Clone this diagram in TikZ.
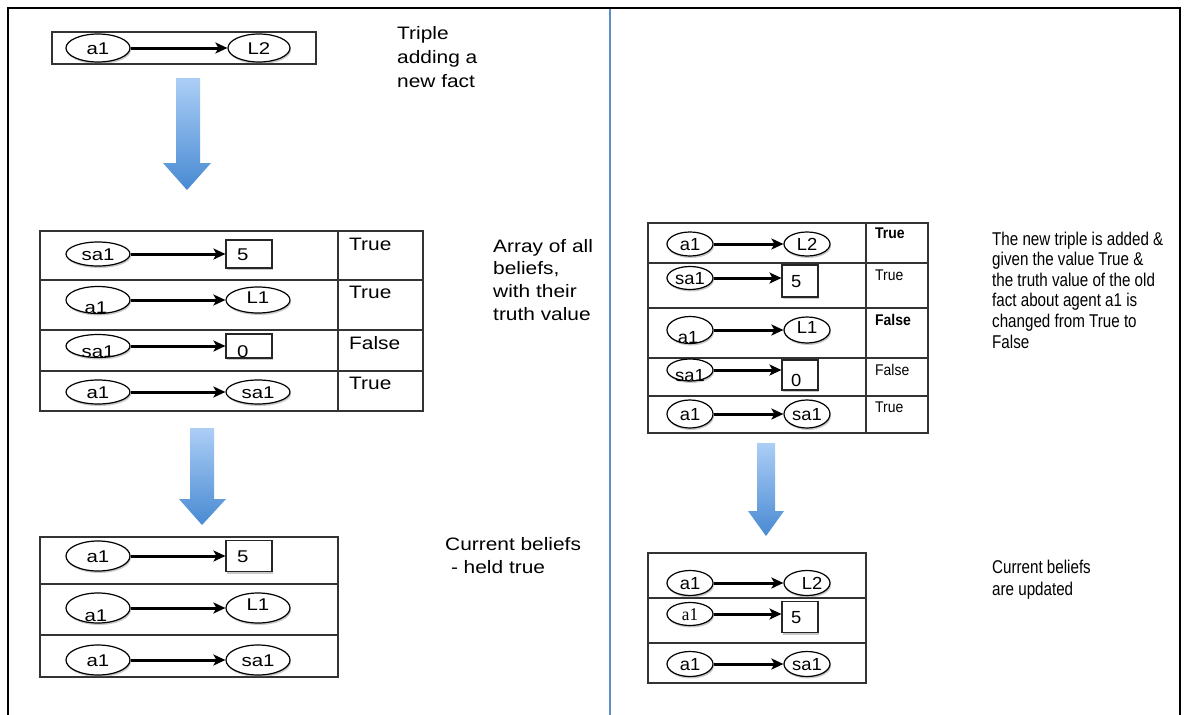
\documentclass[tikz,border=0pt]{standalone}
\usepackage{fontspec}
\setmainfont{Liberation Sans}
\newfontfamily\wideF[FakeStretch=1.16]{Liberation Sans}
\newfontfamily\lblF[FakeStretch=1.2]{Liberation Sans}
\newfontfamily\narrowF[FakeStretch=0.82]{Liberation Sans}
\newfontfamily\rtF[FakeStretch=0.9]{Liberation Sans}
\newfontfamily\rlblF[FakeStretch=1.05]{Liberation Sans}
\newfontfamily\rserF[FakeStretch=0.95]{Liberation Serif}
\usetikzlibrary{shapes.geometric,arrows.meta,shadows}
\newcommand{\lowtxt}[1]{\raisebox{-5pt}{#1}}
\newcommand{\lowertxt}[1]{\raisebox{-7pt}{\hspace*{-4pt}#1}}
\definecolor{blueTop}{RGB}{172,206,246}
\definecolor{blueBot}{RGB}{72,138,210}
\definecolor{divblue}{RGB}{92,142,200}
\tikzset{
  shd/.style={drop shadow={shadow xshift=1pt,shadow yshift=-2pt,opacity=0.35,fill=black!60}},
  ell/.style={ellipse, draw=black, line width=1.2pt, fill=white, inner sep=0pt,
    minimum width=64pt, minimum height=25pt, text height=12.2pt, text depth=0pt,
    font=\lblF\fontsize{17}{17}\selectfont, shd},
  rell/.style={ell, minimum width=46pt, minimum height=24pt, text height=12.5pt,
    font=\rlblF\fontsize{17.5}{17.5}\selectfont},
  valbox/.style={rectangle, draw=black!85, line width=1.1pt, fill=white, inner sep=0pt,
    minimum width=46pt, minimum height=28pt, text width=24pt, inner xsep=11pt, align=left,
    text height=12.2pt, text depth=0pt, font=\lblF\fontsize{17}{17}\selectfont, shd},
  rval/.style={valbox, minimum width=36pt, minimum height=32pt, text width=18pt, inner xsep=9pt,
    text height=12.5pt, font=\rlblF\fontsize{17.5}{17.5}\selectfont},
  arr/.style={-{Stealth[length=12pt,width=11pt,inset=3pt]}, line width=3pt},
  tbl/.style={draw=black!80, line width=1.2pt},
  truth/.style={anchor=base west, inner sep=0pt, font=\wideF\fontsize{18}{18}\selectfont},
  rtruth/.style={anchor=base west, inner sep=0pt, font=\rtF\fontsize{15.5}{15.5}\selectfont},
  note/.style={anchor=north west, inner sep=0pt, align=left},
}
\begin{document}
\begin{tikzpicture}[x=1pt,y=-1pt]
\useasboundingbox (0,0) rectangle (1189,715);
\fill[white] (0,0) rectangle (1189,715);
% frame
\draw[line width=2pt] (8,715) -- (8,8);
\draw[line width=2.5pt] (7,8) -- (1181,8);
\draw[line width=1.2pt] (1180,8) -- (1180,715);
\draw[line width=2.6pt, divblue] (610,9) -- (610,715);

% ---------- top triple ----------
\draw[tbl] (52,32) rectangle (316,64);
\node[ell, minimum height=28pt] (t1) at (98,48) {a1};
\node[ell, minimum width=62pt, minimum height=28pt] (t2) at (259,48) {L2};
\draw[arr] (t1) -- (t2);
\node[note, font=\wideF\fontsize{18}{24}\selectfont] (tn) at (397,26) {Triple\\adding a\\new fact};

% blue arrow 1
\shade[top color=blueTop, bottom color=blueBot] (176,78) -- (200,78) -- (200,163) -- (211,163) -- (187,190) -- (163,163) -- (176,163) -- cycle;

% ---------- array of all beliefs ----------
\draw[tbl] (40,231) rectangle (423,411);
\draw[tbl] (338,231) -- (338,411);
\draw[tbl] (40,280) -- (423,280);
\draw[tbl] (40,330) -- (423,330);
\draw[tbl] (40,371) -- (423,371);
\node[ell, minimum height=24pt] (m1a) at (98,254) {sa1};
\node[valbox] (m1b) at (249,254) {5};
\draw[arr] (m1a.east) -- (m1a.east -| m1b.west);
\node[ell, minimum height=27pt] (m2a) at (98,300) {\lowertxt{a1}};
\node[ell, minimum height=26pt] (m2b) at (258,300) {\raisebox{3pt}{L1}};
\draw[arr] (m2a) -- (m2b);
\node[ell, minimum height=23pt] (m3a) at (98,346) {\lowtxt{sa1}};
\node[valbox, minimum height=24pt] (m3b) at (249,346) {\lowtxt{0}};
\draw[arr] (m3a.east) -- (m3a.east -| m3b.west);
\node[ell, minimum height=24pt] (m4a) at (98,392) {a1};
\node[ell, minimum height=24pt] (m4b) at (258,392) {sa1};
\draw[arr] (m4a) -- (m4b);
\node[truth] (mt1) at (349,250) {True};
\node[truth] (mt2) at (349,298) {True};
\node[truth] (mt3) at (349,349) {False};
\node[truth] (mt4) at (349,389) {True};
\node[note, font=\wideF\fontsize{18}{22.7}\selectfont] (mn) at (493,239) {Array of all\\beliefs,\\with their\\truth value};

% blue arrow 2
\shade[top color=blueTop, bottom color=blueBot] (190,428) -- (214,428) -- (214,499) -- (226,499) -- (202,525) -- (179,499) -- (190,499) -- cycle;

% ---------- current beliefs (left) ----------
\draw[tbl] (40,537) rectangle (338,677);
\draw[tbl] (40,584) -- (338,584);
\draw[tbl] (40,635) -- (338,635);
\node[ell, minimum height=30pt] (b1a) at (98,556) {a1};
\node[valbox, minimum height=31pt] (b1b) at (249,556) {5};
\draw[arr] (b1a.east) -- (b1a.east -| b1b.west);
\node[ell, minimum height=30pt] (b2a) at (98,608) {\lowertxt{a1}};
\node[ell, minimum height=30pt] (b2b) at (258,608) {\raisebox{4pt}{L1}};
\draw[arr] (b2a) -- (b2b);
\node[ell, minimum height=30pt] (b3a) at (98,660) {a1};
\node[ell, minimum height=30pt] (b3b) at (258,660) {sa1};
\draw[arr] (b3a) -- (b3b);
\node[note, font=\wideF\fontsize{18}{23}\selectfont] (bn) at (445,537) {Current beliefs\\\ - held true};

% ---------- right array ----------
\draw[tbl] (648,223) rectangle (928,433);
\draw[tbl] (866,223) -- (866,433);
\draw[tbl] (648,263) -- (928,263);
\draw[tbl] (648,308) -- (928,308);
\draw[tbl] (648,358) -- (928,358);
\draw[tbl] (648,396) -- (928,396);
\node[rell] (r1a) at (690,244) {a1};
\node[rell] (r1b) at (807,244) {L2};
\draw[arr] (r1a) -- (r1b);
\node[rell, minimum height=23pt] (r2a) at (690,278) {sa1};
\node[rval] (r2b) at (800,281) {5};
\draw[arr] (r2a.east) -- (r2a.east -| r2b.west);
\node[rell, minimum height=27pt] (r3a) at (690,330) {\lowertxt{a1}};
\node[rell, minimum height=26pt] (r3b) at (807,330) {\raisebox{3pt}{L1}};
\draw[arr] (r3a) -- (r3b);
\node[rell, minimum height=22pt] (r4a) at (690,370) {\lowtxt{sa1}};
\node[rval, minimum height=30pt] (r4b) at (800,375) {\lowtxt{0}};
\draw[arr] (r4a.east) -- (r4a.east -| r4b.west);
\node[rell, minimum height=28pt] (r5a) at (690,414) {a1};
\node[rell, minimum height=28pt] (r5b) at (807,414) {sa1};
\draw[arr] (r5a) -- (r5b);
\node[rtruth, font=\rtF\bfseries\fontsize{15.5}{15.5}\selectfont] (rt1) at (875,238) {True};
\node[rtruth] (rt2) at (875,280) {True};
\node[rtruth, font=\rtF\bfseries\fontsize{15.5}{15.5}\selectfont] (rt3) at (875,325) {False};
\node[rtruth] (rt4) at (875,375) {False};
\node[rtruth] (rt5) at (875,412) {True};
\node[note, font=\narrowF\fontsize{18.5}{20.6}\selectfont] (rn) at (992,231.5) {The new triple is added \&\\given the value True \&\\the truth value of the old\\fact about agent a1 is\\changed from True to\\False};

% blue arrow 3
\shade[top color=blueTop, bottom color=blueBot] (757,443) -- (775,443) -- (775,511) -- (784,511) -- (766,536) -- (748,511) -- (757,511) -- cycle;

% ---------- current beliefs (right) ----------
\draw[tbl] (648,553) rectangle (866,683);
\draw[tbl] (648,598) -- (866,598);
\draw[tbl] (648,643) -- (866,643);
\node[rell, minimum height=25pt] (s1a) at (690,583) {a1};
\node[rell, minimum height=25pt] (s1b) at (807,583) {\hspace*{10pt}L2};
\draw[arr] (s1a) -- (s1b);
\node[rell, minimum height=23pt, font=\rserF\fontsize{18}{18}\selectfont] (s2a) at (690,614) {a1};
\node[rval, minimum height=31pt] (s2b) at (800,617) {5};
\draw[arr] (s2a.east) -- (s2a.east -| s2b.west);
\node[rell, minimum height=25pt] (s3a) at (690,664) {a1};
\node[rell, minimum height=25pt] (s3b) at (807,664) {sa1};
\draw[arr] (s3a) -- (s3b);
\node[note, font=\narrowF\fontsize{18.5}{22}\selectfont] (sn) at (992,560) {Current beliefs\\are updated};
\end{tikzpicture}
\end{document}
